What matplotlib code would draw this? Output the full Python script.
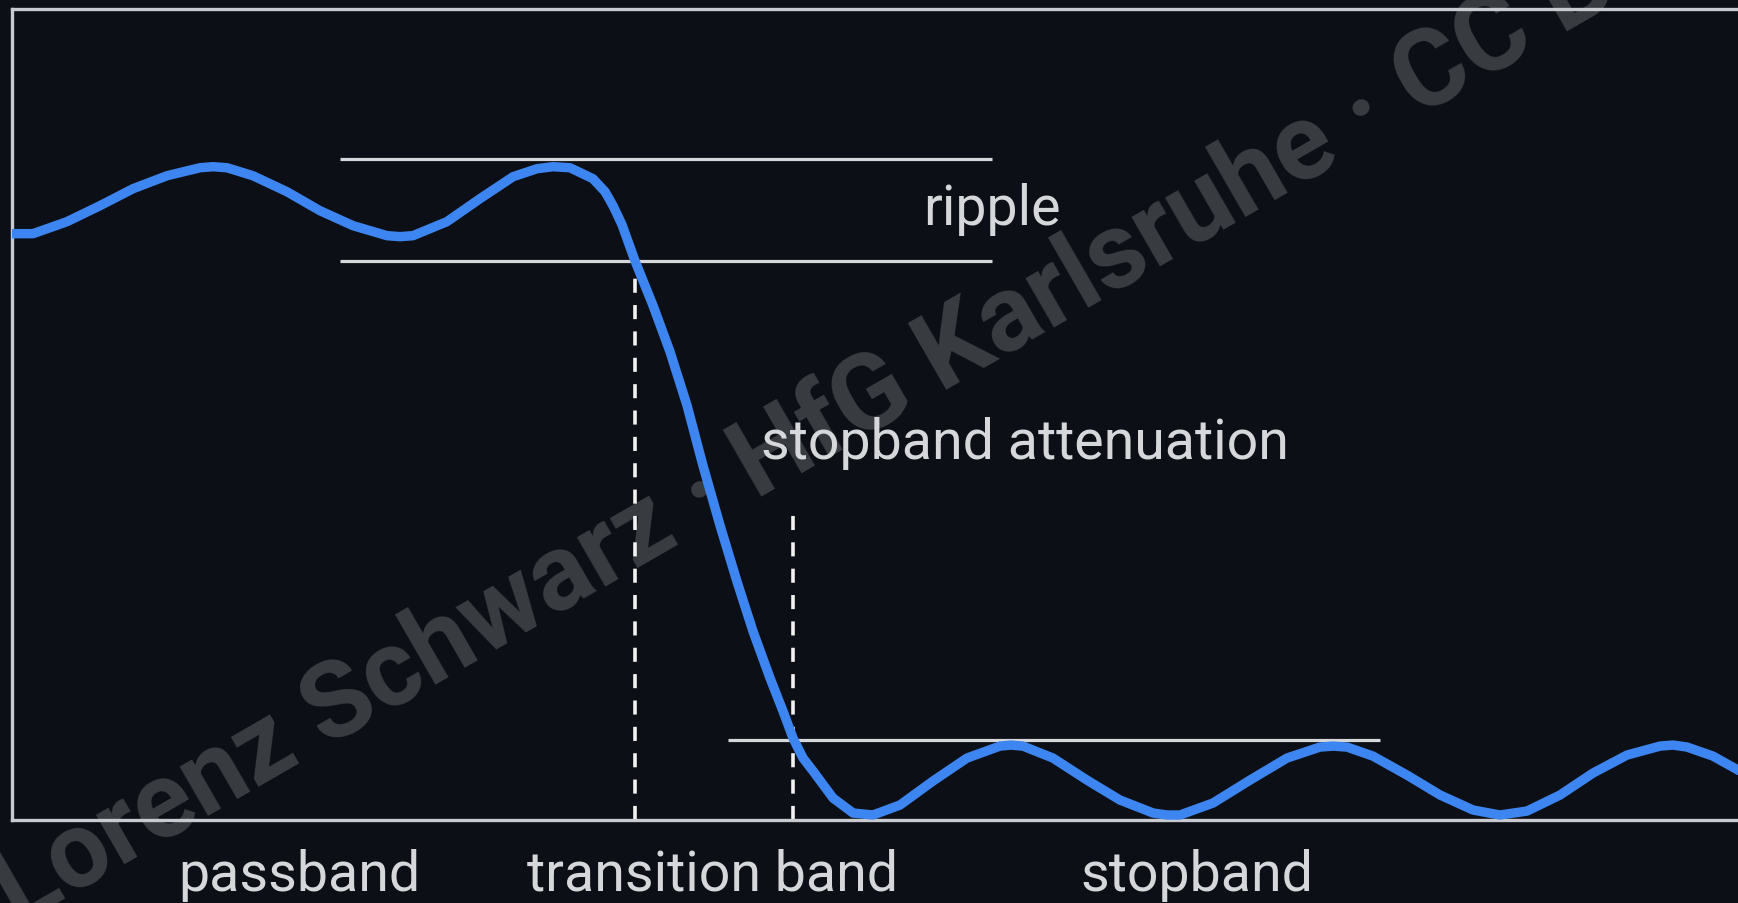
import matplotlib
matplotlib.use("Agg")
import matplotlib.pyplot as plt

''' Valores lidos da figura (frequência normalizada, ganho) '''
freq = [0.0, 0.0122, 0.0319, 0.0510, 0.0701, 0.0898, 0.1089, 0.1165, 0.1246, 0.1396,
        0.1593, 0.1784, 0.1976, 0.2173, 0.2248, 0.2323, 0.2520, 0.2711, 0.2903, 0.3042,
        0.3134, 0.3233, 0.3366, 0.3436, 0.3482, 0.3534, 0.3609, 0.3714, 0.3812, 0.3911,
        0.4003, 0.4102, 0.4200, 0.4293, 0.4392, 0.4467, 0.4525, 0.4583, 0.4641, 0.4757,
        0.4873, 0.4988, 0.5145, 0.5336, 0.5533, 0.5724, 0.5788, 0.5857, 0.6031, 0.6228,
        0.6419, 0.6611, 0.6692, 0.6767, 0.6958, 0.7173, 0.7387, 0.7578, 0.7654, 0.7735,
        0.7885, 0.8082, 0.8274, 0.8465, 0.8621, 0.8778, 0.8969, 0.9160, 0.9357, 0.9548,
        0.9623, 0.9705, 0.9855, 1.0, 1.0127]
gain = [0.9615, 0.9615, 0.9812, 1.0074, 1.0352, 1.0565, 1.0696, 1.0713, 1.0696, 1.0565,
        1.0303, 0.9992, 0.9746, 0.9582, 0.9566, 0.9582, 0.9812, 1.0188, 1.0549, 1.0680,
        1.0713, 1.0696, 1.0516, 1.0303, 1.0074, 0.9763, 0.9173, 0.8436, 0.7682, 0.6798,
        0.5815, 0.4832, 0.3915, 0.3096, 0.2326, 0.1785, 0.1343, 0.1016, 0.0803, 0.0360,
        0.0115, 0.0082, 0.0246, 0.0639, 0.1016, 0.1212, 0.1229, 0.1212, 0.1016, 0.0655,
        0.0328, 0.0115, 0.0082, 0.0082, 0.0278, 0.0655, 0.1016, 0.1196, 0.1212, 0.1196,
        0.1048, 0.0737, 0.0410, 0.0164, 0.0082, 0.0147, 0.0410, 0.0770, 0.1065, 0.1212,
        0.1229, 0.1196, 0.1048, 0.0819, 0.0606]

ripple_levels = [1.0844, 0.9173]
ripple_span = [0.1900, 0.5678]
stop_level = 0.1310
stop_span = [0.4148, 0.7926]
edge_freqs = [0.3609, 0.4525]
edge_tops = [0.9173, 0.5029]

band_names = ["passband", "transition band", "stopband"]
band_centers = [0.1663, 0.4059, 0.6866]

bg = "#0c0f16"
fg = "#d6d7db"
blue = "#3d85f0"

fig = plt.figure(figsize=(17.38, 9.04), dpi=100, facecolor=bg)
ax = fig.add_axes([0.0069, 0.0918, 1 - 0.0069, 0.8972])
ax.set_facecolor(bg)
ax.set_xlim(0, 1)
ax.set_ylim(0, 1.33)
ax.set_xticks([])
ax.set_yticks([])
for s in ["left", "top", "bottom"]:
    ax.spines[s].set_color("#c9cacf")
    ax.spines[s].set_linewidth(2.4)
ax.spines["right"].set_visible(False)

''' Marca d'água (por baixo das linhas) '''
ax.text(0.010, -0.025, "Lorenz Schwarz · HfG Karlsruhe · CC BY", color="white", alpha=0.19,
        fontsize=77, family="Roboto", fontweight="bold", rotation=30,
        rotation_mode="anchor", ha="left", va="baseline",
        transform=fig.transFigure, clip_on=False, zorder=1)

''' Linhas de referência '''
for lvl in ripple_levels:
    ax.hlines(lvl, ripple_span[0], ripple_span[1], color=fg, lw=2.3, zorder=2)
ax.hlines(stop_level, stop_span[0], stop_span[1], color=fg, lw=2.3, zorder=2)
for xf, yt in zip(edge_freqs, edge_tops):
    ax.plot([xf, xf], [0, yt], color="#f2f2f2", lw=2.6, dashes=(3.9, 3.4), zorder=2)

''' Resposta do filtro '''
ax.plot(freq, gain, color=blue, lw=6.8, solid_capstyle="round", solid_joinstyle="round",
        zorder=3)

''' Textos '''
ax.text(0.5678, 1.003, "ripple", color=fg, fontsize=40, family="Roboto",
        ha="center", va="center", zorder=4)
ax.text(0.587, 0.6195, "stopband attenuation", color=fg, fontsize=40, family="Roboto",
        ha="center", va="center", zorder=4)
for name, c in zip(band_names, band_centers):
    ax.text(c, -0.089, name, color=fg, fontsize=40, family="Roboto",
            ha="center", va="center", clip_on=False, zorder=4)

fig.savefig("out.png", dpi=100, facecolor=bg)
